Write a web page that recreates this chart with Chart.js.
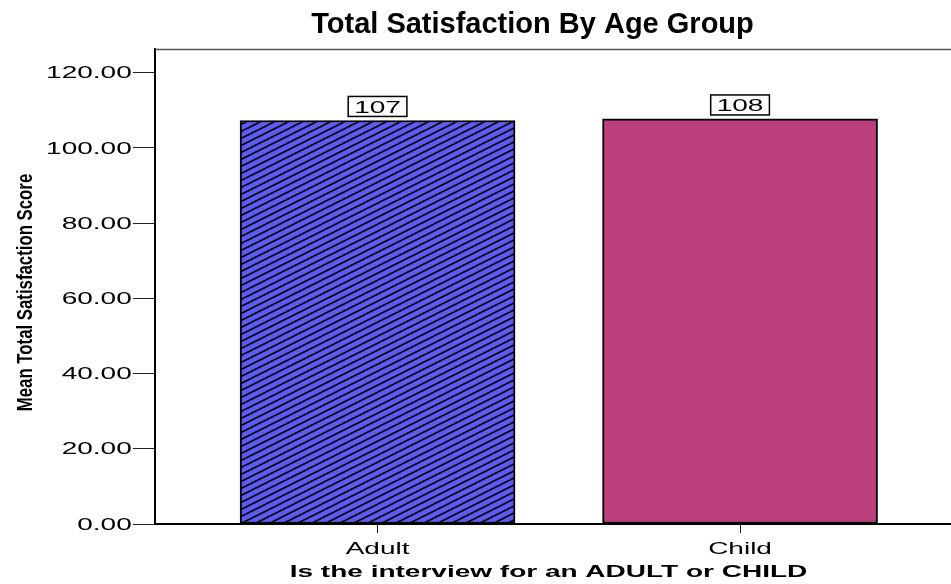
<!DOCTYPE html>
<html>
<head>
<meta charset="utf-8">
<script src="https://cdn.jsdelivr.net/npm/chart.js@4.4.1/dist/chart.umd.min.js"></script>
<style>
  body { margin: 0; background: #fff; }
  #wrap { width: 951px; height: 584px; }
</style>
</head>
<body>
<div id="wrap"><canvas id="chart"></canvas></div>
<script>
// data
const categories = ["Adult", "Child"];
const meanScores = [107.3, 107.7];
const yTicks = [0, 20, 40, 60, 80, 100, 120];

const chartTitle = "Total Satisfaction By Age Group";
const xTitle = "Is the interview for an ADULT or CHILD";
const yTitle = "Mean Total Satisfaction Score";

// hatch fill for the first bar
function makeHatch() {
    const c = document.createElement("canvas");
    c.width = 14;
    c.height = 7;
    const g = c.getContext("2d");
    g.fillStyle = "#5b5bf6";
    g.fillRect(0, 0, 14, 7);
    g.strokeStyle = "#000";
    g.lineWidth = 1.6;
    for (let k = -1; k <= 1; k++) {
        g.beginPath();
        g.moveTo(-14, 14 + 7 * k);
        g.lineTo(28, 7 * k - 7);
        g.stroke();
    }
    return g.createPattern(c, "repeat");
}

const WIDE = 1.75; // the small text in the reference is stretched sideways

function wideText(ctx, txt, x, y, font, align, sx) {
    ctx.save();
    ctx.translate(x, y);
    ctx.scale(sx, 1);
    ctx.font = font;
    ctx.textAlign = align;
    ctx.textBaseline = "alphabetic";
    ctx.fillStyle = "#000";
    ctx.fillText(txt, 0, 0);
    ctx.restore();
}

const textLayer = {
    id: "textLayer",
    afterDraw(chart) {
        const ctx = chart.ctx;
        const area = chart.chartArea;
        const xs = chart.scales.x;
        const ys = chart.scales.y;

        // top edge of the frame
        ctx.save();
        ctx.strokeStyle = "#555";
        ctx.lineWidth = 1.5;
        ctx.beginPath();
        ctx.moveTo(area.left, area.top + 0.5);
        ctx.lineTo(area.right, area.top + 0.5);
        ctx.stroke();
        ctx.restore();

        // title
        wideText(ctx, chartTitle, 532.5, 33, 'bold 29px "Liberation Sans", Arial', "center", 1);

        // y tick labels
        yTicks.forEach(v => {
            wideText(ctx, v.toFixed(2), 131.7, ys.getPixelForValue(v) + 5.7,
                '16px "Liberation Sans", Arial', "right", WIDE);
        });

        // x tick labels
        categories.forEach((c, i) => {
            wideText(ctx, c, xs.getPixelForValue(i), 554.3,
                '16px "Liberation Sans", Arial', "center", WIDE);
        });

        // x title
        wideText(ctx, xTitle, 548.5, 576.7, 'bold 16px "Liberation Sans", Arial', "center", WIDE);

        // y title (rotated, condensed look)
        ctx.save();
        ctx.translate(31.7, 292.5);
        ctx.rotate(-Math.PI / 2);
        ctx.scale(1, 1.35);
        ctx.font = 'bold 16.8px "Liberation Sans", Arial';
        ctx.textAlign = "center";
        ctx.textBaseline = "alphabetic";
        ctx.fillStyle = "#000";
        ctx.fillText(yTitle, 0, 0);
        ctx.restore();

        // value boxes above bars
        const meta = chart.getDatasetMeta(0);
        meta.data.forEach((bar, i) => {
            const txt = String(Math.round(meanScores[i]));
            ctx.save();
            ctx.font = '16px "Liberation Sans", Arial';
            const w = ctx.measureText(txt).width * WIDE + 12;
            const h = 20;
            const bottom = bar.y - 4;
            ctx.fillStyle = "#fff";
            ctx.fillRect(bar.x - w / 2, bottom - h, w, h);
            ctx.strokeStyle = "#000";
            ctx.lineWidth = 1.5;
            ctx.strokeRect(bar.x - w / 2, bottom - h, w, h);
            ctx.restore();
            wideText(ctx, txt, bar.x, bottom - 3.7, '16px "Liberation Sans", Arial', "center", WIDE);
        });
    }
};

const ctx = document.getElementById("chart").getContext("2d");
const chart = new Chart(ctx, {
    type: "bar",
    data: {
        datasets: [
            {
                data: categories.map((c, i) => ({ x: i, y: meanScores[i] })),
                backgroundColor: [makeHatch(), "#bb3f7c"],
                borderColor: "#000",
                borderWidth: 2,
                borderSkipped: false,
                barThickness: 275,
            },
        ],
    },
    options: {
        responsive: true,
        maintainAspectRatio: false,
        animation: false,
        layout: { padding: { top: 49, left: 0, right: 0, bottom: 0 } },
        plugins: {
            legend: { display: false },
            tooltip: { enabled: false },
        },
        scales: {
            x: {
                type: "linear",
                min: -0.614,
                max: 1.582,
                offset: false,
                afterBuildTicks: (s) => { s.ticks = categories.map((c, i) => ({ value: i })); },
                afterFit: (s) => { s.height = 60; },
                ticks: { display: false },
                grid: { drawOnChartArea: false, offset: false, tickLength: 9, color: "#222" },
                border: { color: "#000", width: 2 },
            },
            y: {
                min: 0,
                max: 126.3,
                afterBuildTicks: (s) => { s.ticks = yTicks.map(v => ({ value: v })); },
                afterFit: (s) => { s.width = 155; },
                ticks: { display: false },
                grid: { drawOnChartArea: false, tickLength: 22, color: "#222" },
                border: { color: "#000", width: 2 },
            },
        },
    },
    plugins: [textLayer],
});
</script>
</body>
</html>
